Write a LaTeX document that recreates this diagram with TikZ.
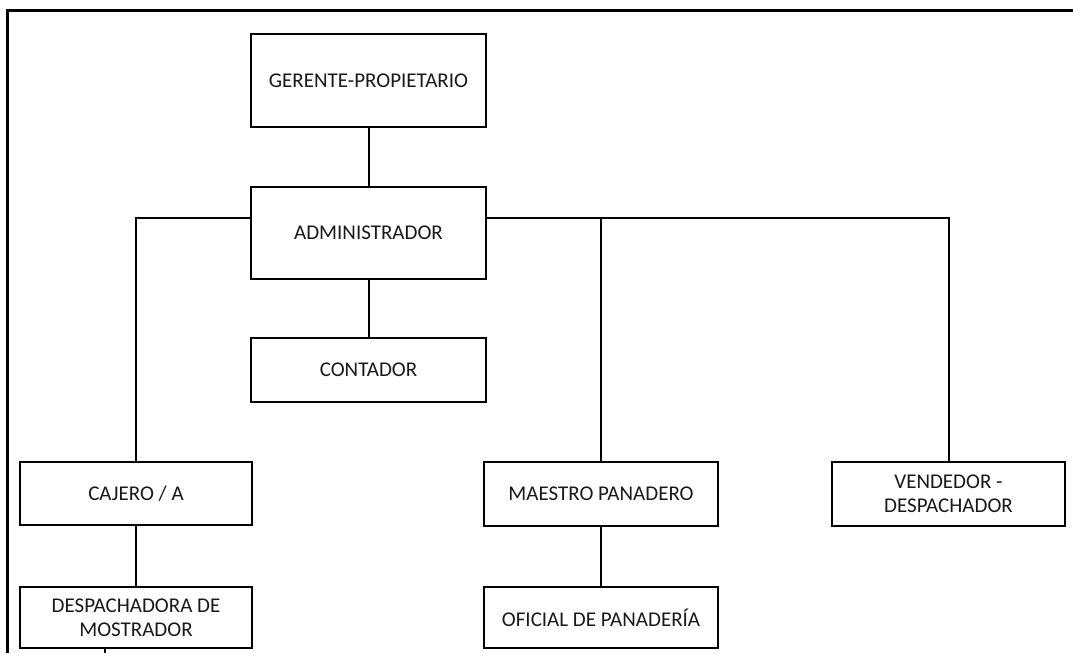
\documentclass[tikz,border=0pt]{standalone}
\usepackage{fontspec}
\setmainfont{Carlito}
\begin{document}
\begin{tikzpicture}[x=1pt,y=-1pt,
  orgbox/.style={draw=black, line width=2pt, fill=white, align=center,
    font=\fontsize{21}{24}\selectfont, text=black!90, inner sep=0pt},
  link/.style={draw=black, line width=2pt},
  frameline/.style={draw=black, line width=3pt}]
\useasboundingbox (0,0) rectangle (1073,653);
% frame
\draw[frameline] (7,653) -- (7,10) -- (1073,10);
% nodes
\node[orgbox, minimum width=235pt, minimum height=93pt] (ger) at (368.5,80.5) {GERENTE-PROPIETARIO};
\node[orgbox, minimum width=235pt, minimum height=92pt] (adm) at (368.5,233) {ADMINISTRADOR};
\node[orgbox, minimum width=235pt, minimum height=64pt] (con) at (368.5,370) {CONTADOR};
\node[orgbox, minimum width=232pt, minimum height=63pt] (caj) at (136,493.5) {CAJERO / A};
\node[orgbox, minimum width=232pt, minimum height=61pt] (des) at (136,617.5) {DESPACHADORA DE\\MOSTRADOR};
\node[orgbox, minimum width=234pt, minimum height=64pt] (mae) at (601,494) {MAESTRO PANADERO};
\node[orgbox, minimum width=234pt, minimum height=61pt] (ofi) at (601,617.5) {OFICIAL DE PANADERÍA};
\node[orgbox, minimum width=233pt, minimum height=64pt] (ven) at (948.5,494) {VENDEDOR -\\DESPACHADOR};
% connectors
\coordinate (bus) at (0,218);
\coordinate (stubend) at (105,653);
\draw[link] (ger.south) -- (adm.north);
\draw[link] (adm.south) -- (con.north);
\draw[link] (adm.west |- bus) -| (caj.north);
\draw[link] (adm.east |- bus) -| (ven.north);
\draw[link] (mae.north |- bus) -- (mae.north);
\draw[link] (caj.south) -- (des.north);
\draw[link] (mae.south) -- (ofi.north);
\draw[link] (des.south -| stubend) -- (stubend);
\end{tikzpicture}
\end{document}
